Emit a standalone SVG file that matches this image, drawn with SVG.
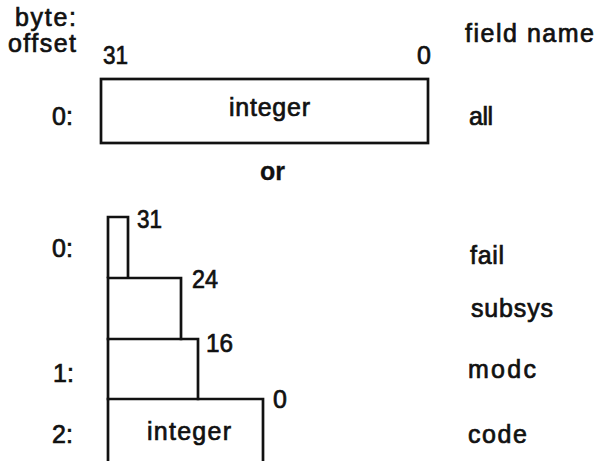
<svg xmlns="http://www.w3.org/2000/svg" width="596" height="461" viewBox="0 0 596 461">
  <style>
    .t { font-family: "Liberation Sans", Arial, Helvetica, sans-serif; font-size: 25px; fill: #111; stroke: #111; stroke-width: 0.7; }
    .b { font-weight: bold; stroke-width: 0.3; }
    .box { fill: none; stroke: #111; stroke-width: 2.7; stroke-linejoin: miter; stroke-linecap: square; }
  </style>
  <rect width="596" height="461" fill="#fff"/>

  <!-- column headings -->
  <g id="headings">
    <text class="t" x="15" y="26" textLength="61" lengthAdjust="spacing">byte:</text>
    <text class="t" x="8" y="52" textLength="68" lengthAdjust="spacing">offset</text>
    <text class="t" x="465" y="42" textLength="129" lengthAdjust="spacing">field name</text>
  </g>

  <!-- whole 32-bit word -->
  <g id="word">
    <text class="t" x="103" y="64" textLength="25" lengthAdjust="spacingAndGlyphs">31</text>
    <text class="t" x="417" y="64">0</text>
    <text class="t" x="52" y="125">0:</text>
    <rect class="box" x="101" y="79" width="327" height="64"/>
    <text class="t" x="229" y="116" textLength="81" lengthAdjust="spacing">integer</text>
    <text class="t" x="469" y="125" textLength="24" lengthAdjust="spacing">all</text>
  </g>

  <text class="t b" x="260" y="180">or</text>

  <!-- split into fields -->
  <g id="offsets">
    <text class="t" x="52" y="257">0:</text>
    <text class="t" x="53" y="382">1:</text>
    <text class="t" x="52" y="443">2:</text>
  </g>

  <g id="fail">
    <path class="box" d="M108,277 V217 H128 V277"/>
    <text class="t" x="137" y="228" textLength="25" lengthAdjust="spacingAndGlyphs">31</text>
    <text class="t" x="470" y="264" textLength="34" lengthAdjust="spacing">fail</text>
  </g>

  <g id="subsys">
    <path class="box" d="M108,339 V278 H181 V339"/>
    <text class="t" x="192" y="288" textLength="26" lengthAdjust="spacingAndGlyphs">24</text>
    <text class="t" x="471" y="317" textLength="82" lengthAdjust="spacing">subsys</text>
  </g>

  <g id="modc">
    <path class="box" d="M108,399 V339 H198 V399"/>
    <text class="t" x="206" y="352" textLength="27" lengthAdjust="spacingAndGlyphs">16</text>
    <text class="t" x="468" y="378" textLength="68" lengthAdjust="spacing">modc</text>
  </g>

  <g id="code">
    <path class="box" d="M108,462 V399 H263 V462"/>
    <text class="t" x="273" y="408">0</text>
    <text class="t" x="147" y="440" textLength="84" lengthAdjust="spacing">integer</text>
    <text class="t" x="468" y="443" textLength="59" lengthAdjust="spacing">code</text>
  </g>
</svg>
